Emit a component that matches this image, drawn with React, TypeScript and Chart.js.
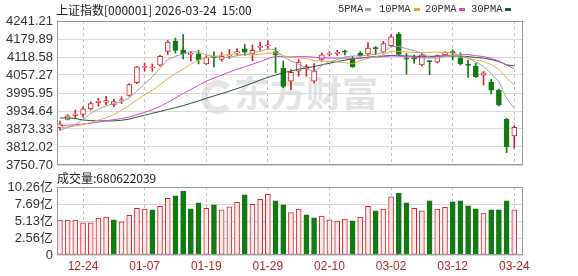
import React, { useEffect, useRef } from "react";
import { Chart, registerables } from "chart.js";

Chart.register(...registerables);

// ---------- data ----------
const dates = [
  "12-19", "12-22", "12-23", "12-24", "12-25", "12-26", "12-29", "12-30", "12-31", "01-05",
  "01-06", "01-07", "01-08", "01-09", "01-12", "01-13", "01-14", "01-15", "01-16", "01-19",
  "01-20", "01-21", "01-22", "01-23", "01-26", "01-27", "01-28", "01-29", "01-30", "02-02",
  "02-03", "02-04", "02-05", "02-06", "02-09", "02-10", "02-11", "02-12", "02-13", "02-24",
  "02-25", "02-26", "02-27", "03-02", "03-03", "03-04", "03-05", "03-06", "03-09", "03-10",
  "03-11", "03-12", "03-13", "03-16", "03-17", "03-18", "03-19", "03-20", "03-23", "03-24",
];

const xTickLabels = ["12-24", "01-07", "01-19", "01-29", "02-10", "03-02", "03-12", "03-24"];

const open = [
  3878, 3906, 3920, 3923, 3942, 3963, 3965, 3955, 3969.5, 3988,
  4031, 4083, 4081, 4091, 4138, 4173, 4141, 4127.5, 4129, 4095,
  4119, 4110, 4121.5, 4132, 4146, 4129, 4151, 4156, 4136, 4080,
  4036, 4070, 4080, 4036, 4110, 4128, 4131, 4137, 4111, 4132,
  4129, 4149.5, 4135, 4157, 4197, 4115, 4113, 4092, 4105, 4101,
  4126, 4137, 4116, 4093, 4088, 4057, 4033, 4006, 3906, 3850,
];
const high = [
  3900, 3922, 3938, 3949, 3966, 3978, 3985, 3974, 3983, 4028,
  4087, 4098, 4095, 4124, 4175, 4183, 4195, 4138, 4141, 4123,
  4136, 4134, 4144, 4146, 4161, 4160, 4169, 4174, 4150, 4105,
  4076, 4110, 4093, 4096, 4132, 4137, 4141, 4142, 4121, 4137,
  4168, 4154, 4172, 4195, 4202, 4131, 4125, 4131, 4106, 4126,
  4137, 4143, 4133, 4108, 4097, 4069, 4043, 4009, 3910, 3884,
];
const low = [
  3869, 3904, 3908, 3914, 3938, 3951, 3956, 3949, 3960, 3985,
  4028, 4070, 4070, 4087, 4127, 4132, 4112, 4104, 4095, 4093,
  4085, 4104, 4113, 4124, 4124, 4105, 4142, 4145, 4065, 4014,
  4007, 4053, 4053, 4030, 4104, 4122, 4124, 4126, 4083, 4121,
  4122, 4126, 4132, 4155, 4123, 4060, 4097, 4088, 4058, 4098,
  4124, 4109, 4091, 4049, 4049, 4023, 3993, 3952, 3793, 3808,
];
const close = [
  3891, 3918, 3924, 3942, 3960, 3968, 3970, 3967, 3973, 4025,
  4085, 4087, 4084, 4121, 4169, 4141, 4130, 4129, 4108, 4117,
  4116, 4121, 4123.5, 4137, 4135, 4141, 4155, 4160, 4126, 4018,
  4066, 4101, 4086, 4070, 4126, 4131, 4133.5, 4135, 4086, 4123.5,
  4149, 4147, 4164, 4187, 4127, 4111, 4112, 4126, 4103, 4123,
  4135, 4132, 4095, 4090, 4052, 4065, 4006, 3955, 3813, 3879,
];

const ma5 = [
  3869, 3878, 3889, 3905, 3927, 3941, 3952, 3960, 3966, 3979,
  4003, 4027, 4051, 4080, 4110, 4121, 4129, 4137, 4135, 4126,
  4120, 4118, 4117, 4123, 4127, 4132, 4138, 4146, 4143, 4120,
  4105, 4094, 4079, 4068, 4089, 4103, 4109, 4119, 4122, 4122,
  4125, 4128, 4134, 4154, 4155, 4147, 4140, 4132, 4116, 4115,
  4120, 4124, 4118, 4115, 4101, 4087, 4062, 4034, 3978, 3944,
];
const ma10 = [
  3878, 3880, 3883, 3889, 3896, 3903, 3912, 3922, 3937, 3954,
  3973, 3990, 4006, 4024, 4045, 4062, 4078, 4094, 4108, 4117,
  4120, 4124, 4128, 4129, 4126, 4126, 4128, 4131, 4133, 4123,
  4118, 4116, 4113, 4106, 4105, 4104, 4102, 4099, 4095, 4106,
  4114, 4119, 4127, 4138, 4138, 4136, 4134, 4133, 4135, 4135,
  4134, 4132, 4125, 4115, 4108, 4103, 4093, 4076, 4047, 4022,
];
const ma20 = [
  3885, 3886, 3888, 3890, 3893, 3897, 3901, 3905, 3909, 3914,
  3922, 3930, 3939, 3950, 3964, 3979, 3994, 4008, 4022, 4036,
  4047, 4057, 4067, 4077, 4085, 4094, 4103, 4113, 4121, 4120,
  4119, 4120, 4120, 4118, 4115, 4115, 4115, 4115, 4114, 4115,
  4116, 4118, 4120, 4122, 4122, 4120, 4118, 4116, 4115, 4120,
  4124, 4125, 4126, 4127, 4123, 4120, 4114, 4105, 4091, 4079,
];
const ma30 = [
  3911, 3911, 3909, 3904, 3902, 3901, 3901, 3901, 3903, 3907,
  3914, 3920, 3927, 3933, 3940, 3946, 3953, 3961, 3969, 3978,
  3986, 3994, 4002, 4011, 4020, 4030, 4040, 4049, 4057, 4065,
  4071, 4077, 4082, 4086, 4092, 4097, 4103, 4108, 4112, 4115,
  4118, 4120, 4122, 4124, 4123, 4122, 4121, 4121, 4121, 4121,
  4122, 4122, 4121, 4120, 4117, 4115, 4110, 4103, 4092, 4088,
];

// volume in 亿 (1e8)
const volume = [
  5.26, 5.26, 5.26, 4.85, 4.85, 5.56, 5.71, 5.31, 5.0, 6.0,
  7.06, 6.91, 6.81, 7.36, 8.56, 8.91, 9.66, 6.96, 7.86, 7.06,
  7.56, 6.81, 7.26, 7.96, 9.06, 7.66, 8.41, 9.16, 8.16, 7.56,
  6.41, 6.91, 6.06, 5.61, 5.86, 5.31, 5.11, 5.41, 5.16, 5.71,
  7.36, 6.66, 6.91, 8.76, 9.36, 7.86, 7.06, 6.66, 8.16, 6.91,
  7.21, 8.01, 8.16, 7.41, 6.96, 6.31, 6.81, 6.81, 8.16, 6.806,
];

const priceTicks = [3750.7, 3812.02, 3873.33, 3934.64, 3995.95, 4057.27, 4118.58, 4179.89, 4241.21];
const volTicks = [0, 2.565, 5.13, 7.695, 10.26];
const volTickLabels = ["0", "2.56亿", "5.13亿", "7.69亿", "10.26亿"];

const maNames = ["5PMA", "10PMA", "20PMA", "30PMA"];

// ---------- styles ----------
const RED = "#d3262b";
const GREEN = "#127a12";
const MA_COLORS = ["#a3a3a3", "#e0b046", "#e043d8", "#1c5c3a"];
const X_MIN = -0.38;
const X_MAX = 60.13;
const SANS = '"Liberation Sans", Arial, "Noto Sans CJK SC", sans-serif';
const CJK = '"Noto Sans CJK SC", "Liberation Sans", sans-serif';

const framePlugin = {
  id: "frame",
  afterDraw(chart: any) {
    const { ctx, chartArea } = chart;
    ctx.save();
    ctx.strokeStyle = "#9a9a9a";
    ctx.lineWidth = 1;
    const l = Math.round(chartArea.left) + 0.5;
    const t = Math.round(chartArea.top) + 0.5;
    const r = Math.round(chartArea.right) - 0.5;
    const b = Math.round(chartArea.bottom) - 0.5;
    ctx.strokeRect(l, t, r - l, b - t);
    ctx.restore();
  },
};

export default function App() {
  const priceRef = useRef<HTMLCanvasElement | null>(null);
  const volRef = useRef<HTMLCanvasElement | null>(null);

  useEffect(() => {
    const idx = dates.map((_, i) => i);
    const up = idx.map((i) => close[i] >= open[i]);
    const volUp = idx.map((i) => close[i] >= (i > 0 ? close[i - 1] : open[i]));
    const tickIdx = xTickLabels.map((d) => dates.indexOf(d));

    const makeX = (labels: boolean) => ({
      type: "linear" as const,
      min: X_MIN,
      max: X_MAX,
      offset: false,
      afterBuildTicks: (s: any) => {
        s.ticks = tickIdx.map((v) => ({ value: v }));
      },
      afterFit: (s: any) => {
        s.height = labels ? 21 : 0;
        s.paddingLeft = 0;
        s.paddingRight = 0;
      },
      grid: { color: "#c4c4c4", drawTicks: false, offset: false },
      border: { display: false, dash: [3, 3] },
      ticks: {
        display: labels,
        autoSkip: false,
        maxRotation: 0,
        padding: 4,
        color: "#b0262a",
        font: { family: SANS, size: 12 },
        callback: (v: any) => dates[Math.round(Number(v))] ?? "",
      },
    });

    const priceChart = new Chart(priceRef.current as HTMLCanvasElement, {
      type: "bar",
      data: {
        datasets: [
          {
            type: "bar",
            label: "wick",
            data: idx.map((i) => ({ x: i, y: [low[i], high[i]] })) as any,
            backgroundColor: idx.map((i) => (up[i] ? RED : GREEN)),
            barThickness: 1,
            grouped: false,
            order: 3,
          },
          {
            type: "bar",
            label: "body",
            data: idx.map((i) => ({ x: i, y: [open[i], close[i]] })) as any,
            backgroundColor: idx.map((i) => (up[i] ? "#ffffff" : GREEN)),
            borderColor: idx.map((i) => (up[i] ? RED : GREEN)),
            borderWidth: 1,
            borderSkipped: false,
            barThickness: 5,
            minBarLength: 1,
            grouped: false,
            order: 2,
          },
          ...[ma5, ma10, ma20, ma30].map((arr, k) => ({
            type: "line" as const,
            label: maNames[k],
            data: idx.map((i) => ({ x: i, y: arr[i] })),
            borderColor: MA_COLORS[k],
            borderWidth: 1,
            pointRadius: 0,
            tension: 0,
            order: 1,
          })),
        ] as any,
      },
      options: {
        animation: false,
        responsive: false,
        devicePixelRatio: 1,
        events: [],
        layout: { padding: { top: 21, right: 55, bottom: 11, left: 0 } },
        plugins: { legend: { display: false }, tooltip: { enabled: false }, title: { display: false } },
        scales: {
          x: makeX(false) as any,
          y: {
            type: "linear",
            min: 3750.7,
            max: 4241.21,
            afterBuildTicks: (s: any) => {
              s.ticks = priceTicks.map((v) => ({ value: v }));
            },
            afterFit: (s: any) => {
              s.width = 57;
              s.paddingTop = 0;
              s.paddingBottom = 0;
            },
            grid: { color: "#d9d9d9", drawTicks: false },
            border: { display: false },
            ticks: {
              autoSkip: false,
              padding: 4,
              color: "#333333",
              font: { family: SANS, size: 13 },
              callback: (v: any) => Number(v).toFixed(2),
            },
          },
        },
      },
      plugins: [framePlugin],
    });

    const volChart = new Chart(volRef.current as HTMLCanvasElement, {
      type: "bar",
      data: {
        datasets: [
          {
            label: "成交量",
            data: idx.map((i) => ({ x: i, y: volume[i] })) as any,
            backgroundColor: idx.map((i) => (volUp[i] ? "#fde9e9" : GREEN)),
            borderColor: idx.map((i) => (volUp[i] ? RED : GREEN)),
            borderWidth: 1,
            borderSkipped: false,
            barThickness: 5,
            grouped: false,
          },
        ],
      },
      options: {
        animation: false,
        responsive: false,
        devicePixelRatio: 1,
        events: [],
        layout: { padding: { top: 17, right: 55, bottom: 0, left: 0 } },
        plugins: { legend: { display: false }, tooltip: { enabled: false } },
        scales: {
          x: makeX(true) as any,
          y: {
            type: "linear",
            min: 0,
            max: 10.26,
            afterBuildTicks: (s: any) => {
              s.ticks = volTicks.map((v) => ({ value: v }));
            },
            afterFit: (s: any) => {
              s.width = 57;
              s.paddingTop = 0;
              s.paddingBottom = 0;
            },
            grid: { color: "#d9d9d9", drawTicks: false },
            border: { display: false },
            ticks: {
              autoSkip: false,
              padding: 4,
              color: "#333333",
              font: { family: SANS, size: 13 },
              callback: (_v: any, i: number) => volTickLabels[i] ?? "",
            },
          },
        },
      },
      plugins: [framePlugin],
    });

    return () => {
      priceChart.destroy();
      volChart.destroy();
    };
  }, []);

  const legendLeft = [338, 379, 425, 471];
  const dashLeft = [365, 414, 459, 505];

  return (
    <div
      style={{
        position: "fixed",
        left: 0,
        top: 0,
        width: 578,
        height: 276,
        background: "#ffffff",
        overflow: "hidden",
      }}
    >
      <div
        style={{
          position: "absolute",
          left: 201,
          top: 80,
          width: 20,
          height: 20,
          borderRadius: "50%",
          border: "7px solid #e6e6e9",
          borderRightColor: "transparent",
        }}
      />
      <div
        style={{
          position: "absolute",
          left: 234,
          top: 72,
          fontFamily: CJK,
          fontWeight: 700,
          fontSize: 36,
          lineHeight: "38px",
          color: "#e3e3e6",
          whiteSpace: "nowrap",
        }}
      >
        东方财富
      </div>
      <canvas ref={priceRef} width={578} height={176} style={{ position: "absolute", left: 0, top: 0 }} />
      <canvas ref={volRef} width={578} height={106} style={{ position: "absolute", left: 0, top: 170 }} />
      <div
        style={{
          position: "absolute",
          left: 56,
          top: 2,
          fontFamily: CJK,
          fontSize: 12,
          lineHeight: "15px",
          color: "#222",
          whiteSpace: "pre",
        }}
      >
        {"上证指数[000001] 2026-03-24  15:00"}
      </div>
      {maNames.map((n, k) => (
        <React.Fragment key={n}>
          <div
            style={{
              position: "absolute",
              left: legendLeft[k],
              top: 2,
              fontFamily: '"Liberation Mono", monospace',
              fontSize: 10.5,
              lineHeight: "14px",
              color: "#333",
              whiteSpace: "nowrap",
            }}
          >
            {n}
          </div>
          <div
            style={{
              position: "absolute",
              left: dashLeft[k],
              top: 8,
              width: 6,
              height: 3,
              background: MA_COLORS[k],
            }}
          />
        </React.Fragment>
      ))}
      <div
        style={{
          position: "absolute",
          left: 57,
          top: 170,
          fontFamily: CJK,
          fontSize: 12,
          lineHeight: "15px",
          color: "#222",
          whiteSpace: "nowrap",
        }}
      >
        成交量:680622039
      </div>
    </div>
  );
}
